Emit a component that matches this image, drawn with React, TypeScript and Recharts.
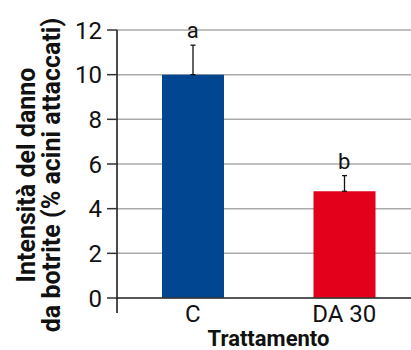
import {
  ComposedChart,
  Bar,
  Line,
  XAxis,
  YAxis,
  CartesianGrid,
  ErrorBar,
  LabelList,
  Label,
  Cell,
} from "recharts";

const categories = ["C", "DA 30"];
const means = [10, 4.78];
const errPlus = [1.32, 0.7];
const letters = ["a", "b"];
const barColors = ["#004691", "#e2001a"];
const yTicks = [0, 2, 4, 6, 8, 10, 12];
const boundaryTicks = [0, 1, 2];

const FONT = "Roboto, 'DejaVu Sans', sans-serif";

const data = categories.map((name, i) => ({
  name,
  mean: means[i],
  err: [0, errPlus[i]],
  top: means[i] + errPlus[i],
  letter: letters[i],
}));

// category boundary ticks below the x axis (first one continues the y axis)
function BoundaryTick(props: any) {
  const { x, y, index } = props;
  return (
    <line
      x1={x}
      y1={y}
      x2={x}
      y2={y + 15}
      stroke={index === 0 ? "#111" : "#777"}
      strokeWidth={1.5}
    />
  );
}

function YTitle() {
  const cy = 175;
  return (
    <g fontFamily={FONT} fontWeight="bold" fontSize={25} fill="#111">
      <text x={35} y={cy} textAnchor="middle" transform={`rotate(-90 35 ${cy})`}>
        Intensità del danno
      </text>
      <text x={60} y={cy} textAnchor="middle" transform={`rotate(-90 60 ${cy})`}>
        da botrite (% acini attaccati)
      </text>
    </g>
  );
}

export default function App() {
  return (
    <div
      style={{
        position: "absolute",
        left: 0,
        top: 0,
        width: 411,
        height: 350,
        overflow: "hidden",
        background: "#fff",
      }}
    >
      <ComposedChart
        width={430}
        height={350}
        data={data}
        margin={{ top: 30, right: 10, left: 0, bottom: 0 }}
      >
        <CartesianGrid vertical={false} stroke="#aaa" strokeWidth={1.5} />
        <XAxis
          xAxisId="bnd"
          type="number"
          domain={[0, 2]}
          ticks={boundaryTicks}
          allowDataOverflow
          height={1}
          axisLine={{ stroke: "#333", strokeWidth: 1.5 }}
          tickLine={false}
          tickSize={0}
          tickMargin={0}
          tick={<BoundaryTick />}
        />
        <XAxis
          xAxisId="cat"
          dataKey="name"
          height={51}
          axisLine={false}
          tickLine={false}
          tickSize={4}
          tickMargin={2}
          tick={{ fontFamily: FONT, fontSize: 24, fill: "#111" }}
        >
          <Label
            value="Trattamento"
            position="insideBottom"
            offset={4}
            style={{
              fontFamily: FONT,
              fontWeight: "bold",
              fontSize: 22,
              fill: "#111",
            }}
          />
        </XAxis>
        <YAxis
          width={117}
          domain={[0, 12]}
          ticks={yTicks}
          axisLine={{ stroke: "#111", strokeWidth: 1.5 }}
          tickLine={{ stroke: "#333", strokeWidth: 1.5 }}
          tickSize={10}
          tickMargin={5}
          tick={{ fontFamily: FONT, fontSize: 24, fill: "#111" }}
          label={<YTitle />}
        />
        <Bar xAxisId="cat" dataKey="mean" barSize={62} isAnimationActive={false}>
          {data.map((d, i) => (
            <Cell key={d.name} fill={barColors[i]} />
          ))}
          <ErrorBar
            dataKey="err"
            direction="y"
            width={2.5}
            stroke="#111"
            strokeWidth={1.3}
            isAnimationActive={false}
          />
        </Bar>
        <Line
          xAxisId="cat"
          dataKey="top"
          stroke="none"
          dot={false}
          activeDot={false}
          isAnimationActive={false}
        >
          <LabelList
            dataKey="letter"
            position="top"
            offset={7}
            style={{ fontFamily: FONT, fontSize: 22, fill: "#111" }}
          />
        </Line>
      </ComposedChart>
    </div>
  );
}
